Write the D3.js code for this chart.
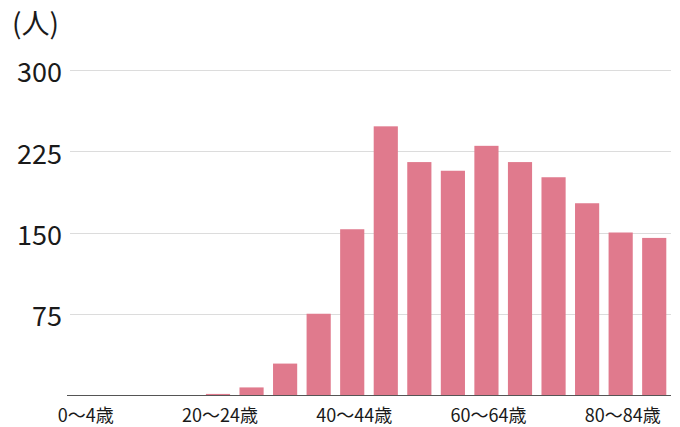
<!DOCTYPE html>
<html>
<head>
<meta charset="utf-8">
<script src="https://cdn.jsdelivr.net/npm/d3@7"></script>
<style>
  body { margin: 0; background: #fff; }
  svg { display: block; font-family: "Noto Sans CJK JP", "Noto Sans", sans-serif; }
</style>
</head>
<body>
<div id="chart"></div>
<script>
// age groups (5-year bands)
const categories = [
  "0～4歳", "5～9歳", "10～14歳", "15～19歳", "20～24歳", "25～29歳",
  "30～34歳", "35～39歳", "40～44歳", "45～49歳", "50～54歳", "55～59歳",
  "60～64歳", "65～69歳", "70～74歳", "75～79歳", "80～84歳", "85歳以上"
];
const values = [0, 0, 0, 0, 1, 7, 29, 75, 153, 248, 215, 207, 230, 215, 201, 177, 150, 145];
const yTicks = [75, 150, 225, 300];
const shownLabels = ["0～4歳", "20～24歳", "40～44歳", "60～64歳", "80～84歳"];

const width = 680, height = 427;
const margin = { left: 67, right: 9, top: 70, bottom: 32 };

const svg = d3.select("#chart").append("svg")
  .attr("width", width)
  .attr("height", height);

const x = d3.scaleBand()
  .domain(categories)
  .range([margin.left, width - margin.right])
  .paddingInner(0.28)
  .paddingOuter(0.14);

const y = d3.scaleLinear()
  .domain([0, 300])
  .range([height - margin.bottom, margin.top]);

// gridlines
svg.append("g")
  .selectAll("line")
  .data(yTicks)
  .join("line")
  .attr("x1", 70)
  .attr("x2", width - margin.right)
  .attr("y1", d => Math.round(y(d)) + 0.5)
  .attr("y2", d => Math.round(y(d)) + 0.5)
  .attr("stroke", "#dcdcdc")
  .attr("stroke-width", 1);

// y labels
svg.append("g")
  .selectAll("text")
  .data(yTicks)
  .join("text")
  .attr("x", 62)
  .attr("y", d => y(d) + 3)
  .attr("dy", "0.35em")
  .attr("text-anchor", "end")
  .attr("font-size", 27)
  .attr("fill", "#1a1a1a")
  .text(d => d);

// unit
svg.append("text")
  .attr("x", 12)
  .attr("y", 34)
  .attr("font-size", 28)
  .attr("fill", "#1a1a1a")
  .text("(人)");

// bars
svg.append("g")
  .selectAll("rect")
  .data(values)
  .join("rect")
  .attr("x", (d, i) => x(categories[i]))
  .attr("width", x.bandwidth())
  .attr("y", d => y(d))
  .attr("height", d => y(0) - y(d))
  .attr("fill", "#e07a8d");

// baseline
svg.append("line")
  .attr("x1", margin.left)
  .attr("x2", width - margin.right)
  .attr("y1", y(0) + 0.5)
  .attr("y2", y(0) + 0.5)
  .attr("stroke", "#555")
  .attr("stroke-width", 1);

// x labels (every 4th)
svg.append("g")
  .selectAll("text")
  .data(shownLabels)
  .join("text")
  .attr("x", d => x(d) + x.bandwidth() / 2 + 2)
  .attr("y", 422)
  .attr("text-anchor", "middle")
  .attr("font-size", 18)
  .attr("fill", "#1a1a1a")
  .text(d => d);
</script>
</body>
</html>
